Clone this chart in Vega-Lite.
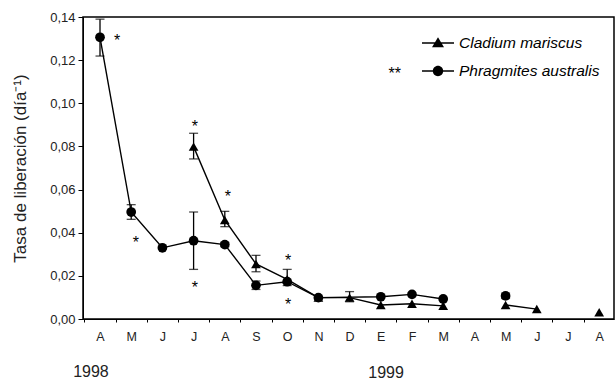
{
  "$schema": "https://vega.github.io/schema/vega-lite/v6.json",
  "width": 531,
  "height": 302,
  "autosize": {"type": "none"},
  "padding": {"left": 83, "top": 17, "right": 2, "bottom": 61},
  "background": "white",
  "config": {
    "font": "Liberation Sans",
    "view": {"stroke": "black", "strokeWidth": 1.5},
    "axis": {"grid": false, "domainColor": "black", "tickColor": "black", "labelColor": "#222", "titleColor": "#222", "labelFont": "Liberation Sans", "titleFont": "Liberation Sans"}
  },
  "datasets": {
    "series": [
      {"species": "Phragmites australis", "seg": "P1", "m": 0, "v": 0.1306, "lo": 0.1219, "hi": 0.139},
      {"species": "Phragmites australis", "seg": "P1", "m": 1, "v": 0.0496, "lo": 0.0462, "hi": 0.053},
      {"species": "Phragmites australis", "seg": "P1", "m": 2, "v": 0.0330, "lo": null, "hi": null},
      {"species": "Phragmites australis", "seg": "P1", "m": 3, "v": 0.0363, "lo": 0.0230, "hi": 0.0496},
      {"species": "Phragmites australis", "seg": "P1", "m": 4, "v": 0.0345, "lo": 0.0335, "hi": 0.0355},
      {"species": "Phragmites australis", "seg": "P1", "m": 5, "v": 0.0156, "lo": 0.0137, "hi": 0.0176},
      {"species": "Phragmites australis", "seg": "P1", "m": 6, "v": 0.0173, "lo": null, "hi": null},
      {"species": "Phragmites australis", "seg": "P1", "m": 7, "v": 0.0099, "lo": null, "hi": null},
      {"species": "Phragmites australis", "seg": "P1", "m": 9, "v": 0.0103, "lo": null, "hi": null},
      {"species": "Phragmites australis", "seg": "P1", "m": 10, "v": 0.0114, "lo": null, "hi": null},
      {"species": "Phragmites australis", "seg": "P1", "m": 11, "v": 0.0093, "lo": null, "hi": null},
      {"species": "Phragmites australis", "seg": "P2", "m": 13, "v": 0.0107, "lo": 0.0095, "hi": 0.0120},
      {"species": "Cladium mariscus", "seg": "C1", "m": 3, "v": 0.0799, "lo": 0.0742, "hi": 0.0861},
      {"species": "Cladium mariscus", "seg": "C1", "m": 4, "v": 0.0459, "lo": 0.0428, "hi": 0.0499},
      {"species": "Cladium mariscus", "seg": "C1", "m": 5, "v": 0.0255, "lo": 0.0219, "hi": 0.0295},
      {"species": "Cladium mariscus", "seg": "C1", "m": 6, "v": 0.0184, "lo": 0.0155, "hi": 0.0230},
      {"species": "Cladium mariscus", "seg": "C1", "m": 7, "v": 0.0099, "lo": null, "hi": null},
      {"species": "Cladium mariscus", "seg": "C1", "m": 8, "v": 0.0099, "lo": 0.0080, "hi": 0.0127},
      {"species": "Cladium mariscus", "seg": "C1", "m": 9, "v": 0.0065, "lo": null, "hi": null},
      {"species": "Cladium mariscus", "seg": "C1", "m": 10, "v": 0.0071, "lo": null, "hi": null},
      {"species": "Cladium mariscus", "seg": "C1", "m": 11, "v": 0.0061, "lo": null, "hi": null},
      {"species": "Cladium mariscus", "seg": "C2", "m": 13, "v": 0.0065, "lo": null, "hi": null},
      {"species": "Cladium mariscus", "seg": "C2", "m": 14, "v": 0.0046, "lo": null, "hi": null},
      {"species": "Cladium mariscus", "seg": "C3", "m": 16, "v": 0.0031, "lo": null, "hi": null}
    ],
    "notes": [
      {"m": 0.55, "v": 0.1306, "t": "*"},
      {"m": 1.15, "v": 0.0372, "t": "*"},
      {"m": 3.04, "v": 0.0907, "t": "*"},
      {"m": 3.04, "v": 0.0162, "t": "*"},
      {"m": 4.1, "v": 0.0583, "t": "*"},
      {"m": 6.03, "v": 0.0289, "t": "*"},
      {"m": 6.03, "v": 0.0083, "t": "*"},
      {"m": 9.45, "v": 0.1154, "t": "**"}
    ],
    "years": [
      {"m": -0.29, "v": -0.0246, "t": "1998"},
      {"m": 9.17, "v": -0.025, "t": "1999"}
    ]
  },
  "encoding": {
    "x": {
      "field": "m", "type": "quantitative",
      "scale": {"domain": [-0.545, 16.475], "nice": false, "zero": false},
      "axis": {
        "title": null,
        "values": [-0.5, 0.5, 1.5, 2.5, 3.5, 4.5, 5.5, 6.5, 7.5, 8.5, 9.5, 10.5, 11.5, 12.5, 13.5, 14.5, 15.5],
        "labelExpr": "['A','M','J','J','A','S','O','N','D','E','F','M','A','M','J','J','A'][round(datum.value + 0.5)]",
        "labelOffset": 15.6,
        "tickSize": 3,
        "labelPadding": 8,
        "labelFontSize": 12.5,
        "labelFlush": false,
        "labelOverlap": false
      }
    },
    "y": {
      "field": "v", "type": "quantitative",
      "scale": {"domain": [0, 0.14], "nice": false},
      "axis": {
        "title": "Tasa de liberación (día⁻¹)",
        "values": [0, 0.02, 0.04, 0.06, 0.08, 0.1, 0.12, 0.14],
        "labelExpr": "replace(format(datum.value, '.2f'), '.', ',')",
        "tickSize": 5,
        "labelPadding": 3,
        "labelFontSize": 13,
        "titleFontSize": 17,
        "titleFontWeight": "normal",
        "titlePadding": 20
      }
    }
  },
  "resolve": {"scale": {"shape": "independent"}, "legend": {"shape": "independent"}},
  "layer": [
    {
      "data": {"name": "series"},
      "mark": {"type": "line", "color": "black", "strokeWidth": 1.4},
      "encoding": {"detail": {"field": "seg"}}
    },
    {
      "data": {"name": "series"},
      "transform": [{"filter": "datum.hi != null"}],
      "mark": {"type": "errorbar", "orient": "vertical", "color": "black", "thickness": 1.3, "ticks": {"size": 9, "thickness": 1.3, "color": "black"}},
      "encoding": {
        "y": {"field": "lo", "type": "quantitative"},
        "y2": {"field": "hi"}
      }
    },
    {
      "data": {"name": "series"},
      "mark": {"type": "point", "filled": true, "opacity": 1, "size": 95, "color": "black"},
      "encoding": {
        "shape": {
          "field": "species", "type": "nominal",
          "scale": {"domain": ["Cladium mariscus", "Phragmites australis"], "range": ["triangle-up", "circle"]},
          "legend": null
        }
      }
    },
    {
      "data": {"name": "series"},
      "mark": {"type": "point", "filled": true, "opacity": 0, "size": 95, "color": "black"},
      "encoding": {
        "shape": {
          "field": "species", "type": "nominal",
          "scale": {"domain": ["Cladium mariscus", "Phragmites australis"], "range": ["M-1.6,-0.075H1.6V0.075H-1.6ZM0,-0.58L0.6,0.42L-0.6,0.42Z", "M-1.6,-0.075H1.6V0.075H-1.6ZM0.52,0A0.52,0.52,0,1,1,-0.52,0A0.52,0.52,0,1,1,0.52,0Z"]},
          "legend": {
            "title": null,
            "orient": "none",
            "legendX": 345,
            "legendY": 16,
            "padding": 0,
            "symbolSize": 400,
            "symbolOpacity": 1,
            "symbolFillColor": "black",
            "symbolStrokeWidth": 0,
            "rowPadding": 9,
            "labelOffset": 11,
            "labelFontSize": 15.5,
            "labelFontStyle": "italic",
            "labelColor": "black",
            "labelFont": "Liberation Sans"
          }
        }
      }
    },
    {
      "data": {"name": "notes"},
      "mark": {"type": "text", "fontSize": 16, "fill": "black", "baseline": "middle", "dy": 4, "font": "Liberation Sans"},
      "encoding": {"text": {"field": "t"}}
    },
    {
      "data": {"name": "years"},
      "mark": {"type": "text", "fontSize": 16, "fill": "#222", "baseline": "middle", "font": "Liberation Sans"},
      "encoding": {"text": {"field": "t"}}
    }
  ]
}
